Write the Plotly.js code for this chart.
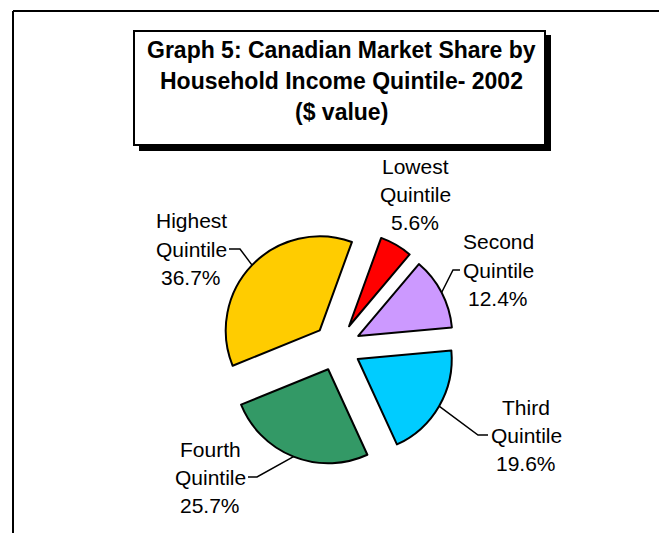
<!DOCTYPE html>
<html><head><meta charset="utf-8">
<script src="https://cdn.plot.ly/plotly-3.0.1.min.js"></script>
<style>html,body{margin:0;padding:0;background:#fff;}#chart{width:659px;height:533px;}</style>
</head><body><div id="chart"></div>
<script>
// ---- data ----
const categories = ['Lowest Quintile', 'Second Quintile', 'Third Quintile', 'Fourth Quintile', 'Highest Quintile'];
const firstWords = ['Lowest', 'Second', 'Third', 'Fourth', 'Highest'];
const secondWord = 'Quintile';
const shares = [5.6, 12.4, 19.6, 25.7, 36.7];
const sliceColors = ['#FF0000', '#CC99FF', '#00CCFF', '#339966', '#FFCC00'];
const titleLines = ['Graph 5: Canadian Market Share by', 'Household Income Quintile- 2002', '($ value)'];

// ---- layout helpers (pixel -> paper) ----
const W = 659, H = 533;
const px = x => x / W, py = y => 1 - y / H;
const pieCx = 337, pieCy = 347, pieR = 94, pull = 0.255, rotation = 20;
const half = pieR * (1 + pull);

// label block placement: [centre x, middle-line y, leader side, elbow length]
const labelPos = [[415, 194, 0, 0], [498, 270, -1, 7], [526, 435, -1, 10], [210, 477, 1, 9], [191, 249, 1, 11]];
const lineGap = 28;
const labelFont = {family: 'Liberation Sans, Arial, sans-serif', size: 21, color: '#000'};

const total = shares.reduce((a, b) => a + b, 0);
const annotations = [];
const shapes = [];

// frame
shapes.push({type: 'line', xref: 'paper', yref: 'paper', x0: px(13), x1: px(659), y0: py(11), y1: py(11), line: {color: '#000', width: 2}});
shapes.push({type: 'line', xref: 'paper', yref: 'paper', x0: px(13), x1: px(13), y0: py(11), y1: py(533), line: {color: '#000', width: 2}});
// title box + shadow
shapes.push({type: 'rect', xref: 'paper', yref: 'paper', x0: px(139), x1: px(551), y0: py(151), y1: py(35), fillcolor: '#000', line: {width: 0}});
shapes.push({type: 'rect', xref: 'paper', yref: 'paper', x0: px(134), x1: px(545), y0: py(145), y1: py(31), fillcolor: '#fff', line: {color: '#000', width: 2}});

titleLines.forEach((t, i) => {
  annotations.push({xref: 'paper', yref: 'paper', x: px(341), y: py(50 + i * 31), xanchor: 'center', yanchor: 'middle',
    text: '<b>' + t + '</b>', showarrow: false, font: {family: 'Liberation Sans, Arial, sans-serif', size: 23, color: '#000'}});
});

let cum = 0;
shares.forEach((v, i) => {
  const phi = (rotation + 360 * (cum + v / 2) / total) * Math.PI / 180;
  cum += v;
  const [cx, cy, side, elb] = labelPos[i];
  const lines = [firstWords[i], secondWord, v.toFixed(1) + '%'];
  lines.forEach((t, k) => {
    annotations.push({xref: 'paper', yref: 'paper', x: px(cx), y: py(cy + (k - 1) * lineGap), xanchor: 'center', yanchor: 'middle',
      text: t, showarrow: false, font: labelFont});
  });
  if (side !== 0) {
    const ax = pieCx + (1 + pull) * pieR * Math.sin(phi);
    const ay = pieCy - (1 + pull) * pieR * Math.cos(phi);
    const tx = cx + side * 38, ex = tx + side * elb;
    shapes.push({type: 'path', xref: 'paper', yref: 'paper',
      path: `M ${px(tx)} ${py(cy)} L ${px(ex)} ${py(cy)} L ${px(ax)} ${py(ay)}`,
      line: {color: '#000', width: 1.5}});
  }
});

const trace = {
  type: 'pie', labels: categories, values: shares, sort: false, direction: 'clockwise', rotation: rotation,
  pull: shares.map(() => pull), textinfo: 'none', hoverinfo: 'label+percent',
  marker: {colors: sliceColors, line: {color: '#000', width: 2}},
  domain: {x: [px(pieCx - half), px(pieCx + half)], y: [py(pieCy + half), py(pieCy - half)]},
  showlegend: false
};

Plotly.newPlot('chart', [trace], {
  width: W, height: H, margin: {l: 0, r: 0, t: 0, b: 0}, paper_bgcolor: '#fff', plot_bgcolor: '#fff',
  showlegend: false, shapes: shapes, annotations: annotations
}, {staticPlot: true});
</script></body></html>
